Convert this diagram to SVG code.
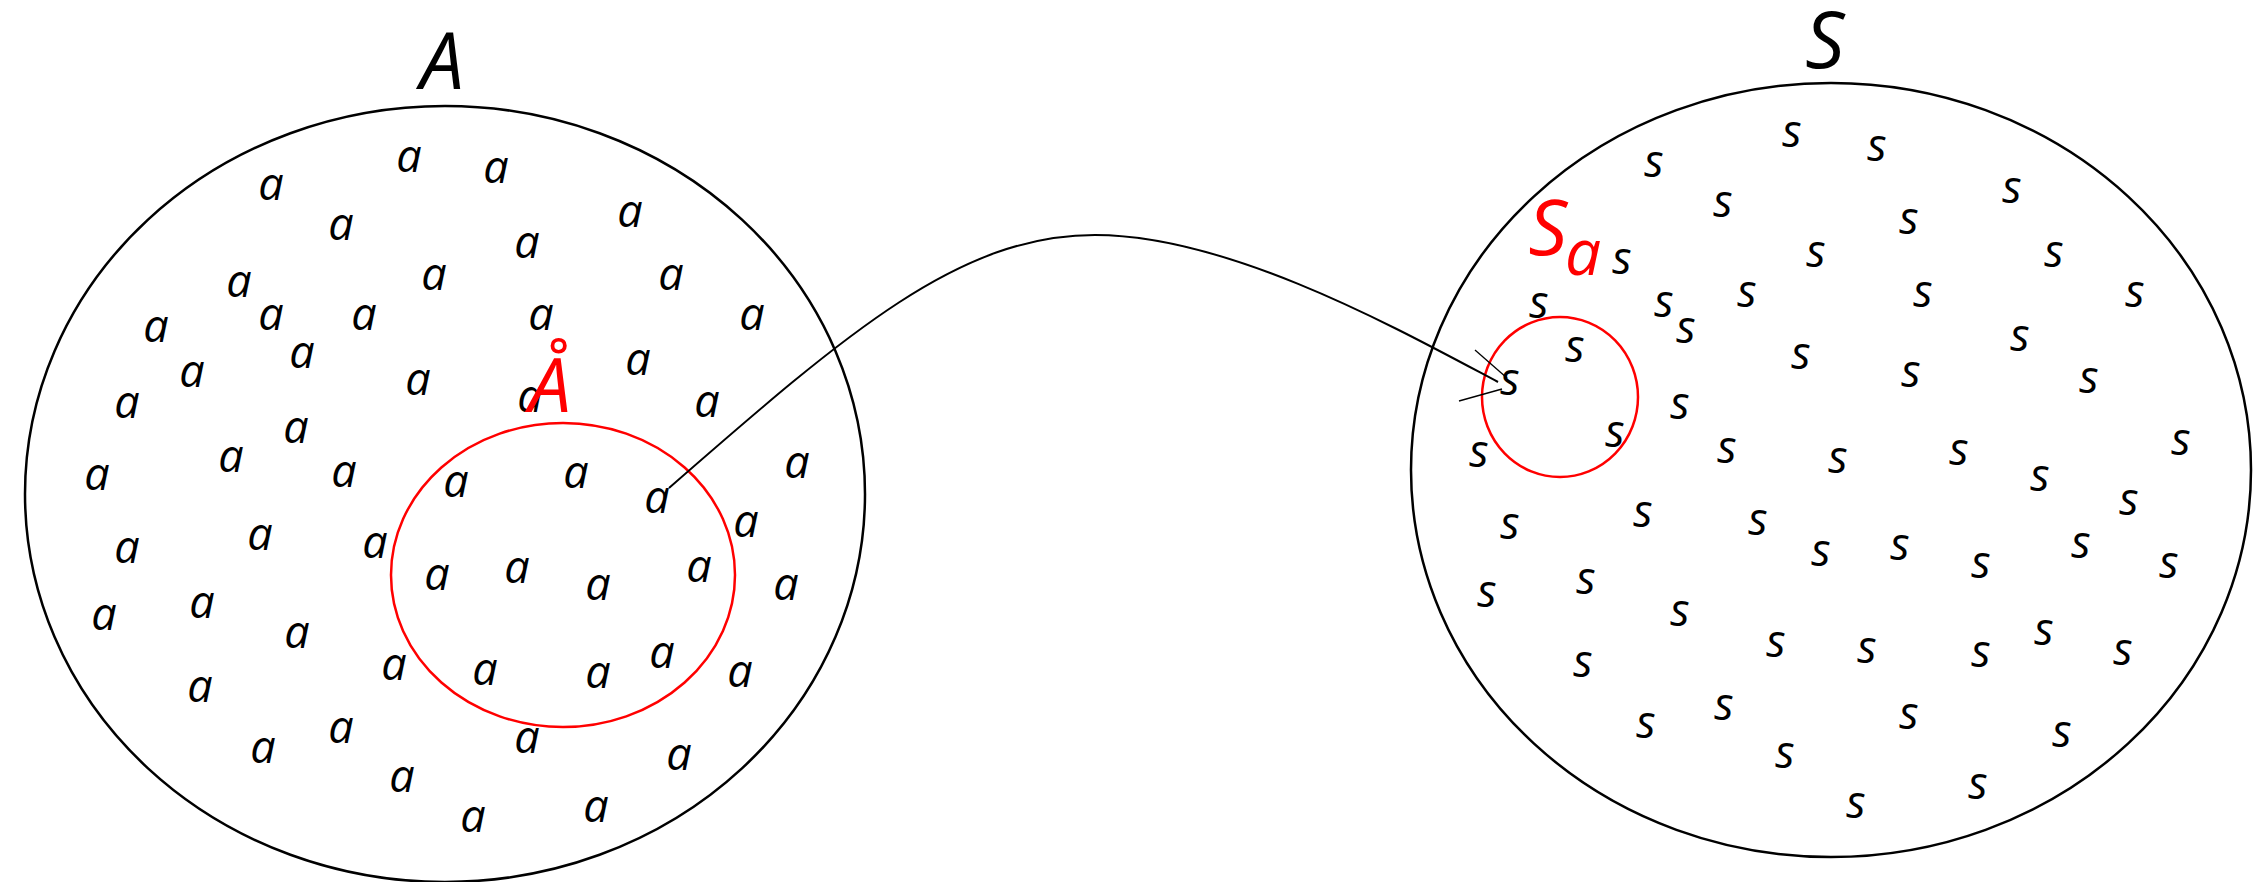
<svg xmlns="http://www.w3.org/2000/svg" width="2253" height="882" viewBox="0 0 2253 882">
<style>
.set{fill:none;stroke:#000;stroke-width:2.5}
.sub{fill:none;stroke:#f00;stroke-width:2.5}
text{font-family:"Open Sans","Noto Sans",sans-serif;font-style:italic;text-anchor:middle}
.el{font-size:45px;fill:#000}
.big{font-size:78px;fill:#000}
.red{fill:#f00}
.conn{fill:none;stroke:#000;stroke-width:2}
.wing{fill:none;stroke:#000;stroke-width:1.3}
</style>
<rect width="2253" height="882" fill="#fff"/>
<g id="setA">
<ellipse class="set" cx="445" cy="494" rx="420" ry="388"/>
<text class="big" x="442" y="89">A</text>
<g class="el">
<text x="409" y="172">a</text><text x="271" y="200">a</text><text x="341" y="240">a</text><text x="434" y="290">a</text>
<text x="239" y="297">a</text><text x="271" y="330">a</text><text x="364" y="330">a</text><text x="156" y="342">a</text>
<text x="302" y="368">a</text><text x="192" y="387">a</text><text x="418" y="395">a</text><text x="127" y="418">a</text>
<text x="296" y="443">a</text><text x="231" y="472">a</text><text x="496" y="183">a</text><text x="630" y="227">a</text>
<text x="527" y="258">a</text><text x="671" y="290">a</text><text x="541" y="330">a</text><text x="752" y="330">a</text>
<text x="638" y="375">a</text><text x="530" y="412">a</text><text x="707" y="417">a</text><text x="97" y="490">a</text>
<text x="344" y="487">a</text><text x="127" y="563">a</text><text x="260" y="550">a</text><text x="375" y="558">a</text>
<text x="104" y="630">a</text><text x="202" y="618">a</text><text x="297" y="648">a</text><text x="394" y="680">a</text>
<text x="200" y="702">a</text><text x="341" y="743">a</text><text x="263" y="763">a</text><text x="402" y="792">a</text>
<text x="797" y="478">a</text><text x="746" y="537">a</text><text x="786" y="600">a</text><text x="740" y="687">a</text>
<text x="527" y="753">a</text><text x="679" y="770">a</text><text x="473" y="832">a</text><text x="596" y="822">a</text>
</g>
</g>
<g id="subsetA">
<ellipse class="sub" cx="563" cy="575" rx="172" ry="152"/>
<text class="big red" x="550" y="412" style="font-size:75px">Å</text>
<g class="el">
<text x="456" y="497">a</text><text x="576" y="488">a</text><text x="657" y="513">a</text><text x="437" y="590">a</text>
<text x="517" y="583">a</text><text x="598" y="600">a</text><text x="699" y="582">a</text><text x="485" y="685">a</text>
<text x="598" y="688">a</text><text x="662" y="668">a</text>
</g>
</g>
<g id="setS">
<ellipse class="set" cx="1831" cy="470" rx="420" ry="387"/>
<text class="big" x="1825" y="68">S</text>
<g class="el">
<text x="1792" y="147">s</text><text x="1654" y="177">s</text><text x="1723" y="217">s</text><text x="1816" y="267">s</text>
<text x="1622" y="274">s</text><text x="1747" y="307">s</text><text x="1539" y="318">s</text><text x="1664" y="317">s</text>
<text x="1686" y="343">s</text><text x="1801" y="369">s</text><text x="1680" y="419">s</text><text x="1479" y="467">s</text>
<text x="1727" y="463">s</text><text x="1877" y="161">s</text><text x="2012" y="203">s</text><text x="1909" y="234">s</text>
<text x="2054" y="267">s</text><text x="1923" y="307">s</text><text x="2135" y="307">s</text><text x="2020" y="351">s</text>
<text x="1911" y="387">s</text><text x="2089" y="393">s</text><text x="2181" y="455">s</text><text x="1959" y="465">s</text>
<text x="1838" y="473">s</text><text x="1510" y="539">s</text><text x="1643" y="527">s</text><text x="1758" y="535">s</text>
<text x="1821" y="566">s</text><text x="1487" y="607">s</text><text x="1586" y="594">s</text><text x="1680" y="626">s</text>
<text x="1776" y="657">s</text><text x="1583" y="677">s</text><text x="1724" y="720">s</text><text x="1646" y="738">s</text>
<text x="1785" y="768">s</text><text x="2040" y="491">s</text><text x="2129" y="515">s</text><text x="1900" y="560">s</text>
<text x="1981" y="578">s</text><text x="2081" y="558">s</text><text x="2169" y="578">s</text><text x="1867" y="663">s</text>
<text x="1981" y="667">s</text><text x="2044" y="645">s</text><text x="2123" y="665">s</text><text x="1909" y="729">s</text>
<text x="2062" y="747">s</text><text x="1856" y="818">s</text><text x="1978" y="799">s</text>
</g>
</g>
<g id="subsetSa">
<ellipse class="sub" cx="1560" cy="397" rx="78" ry="80"/>
<text class="red" x="1548" y="255" style="font-size:77px">S</text>
<text class="red" x="1583" y="275" style="font-size:64px">a</text>
<g class="el">
<text x="1575" y="362">s</text><text x="1510" y="395">s</text><text x="1615" y="447">s</text>
</g>
</g>
<g id="connectors">
<path class="conn" d="M669,488 C850,330 960,235 1095,235 C1230,235 1400,330 1498,382"/>
<line class="wing" x1="1475" y1="350" x2="1507" y2="378"/>
<line class="wing" x1="1459" y1="401" x2="1502" y2="389"/>
</g>
</svg>
